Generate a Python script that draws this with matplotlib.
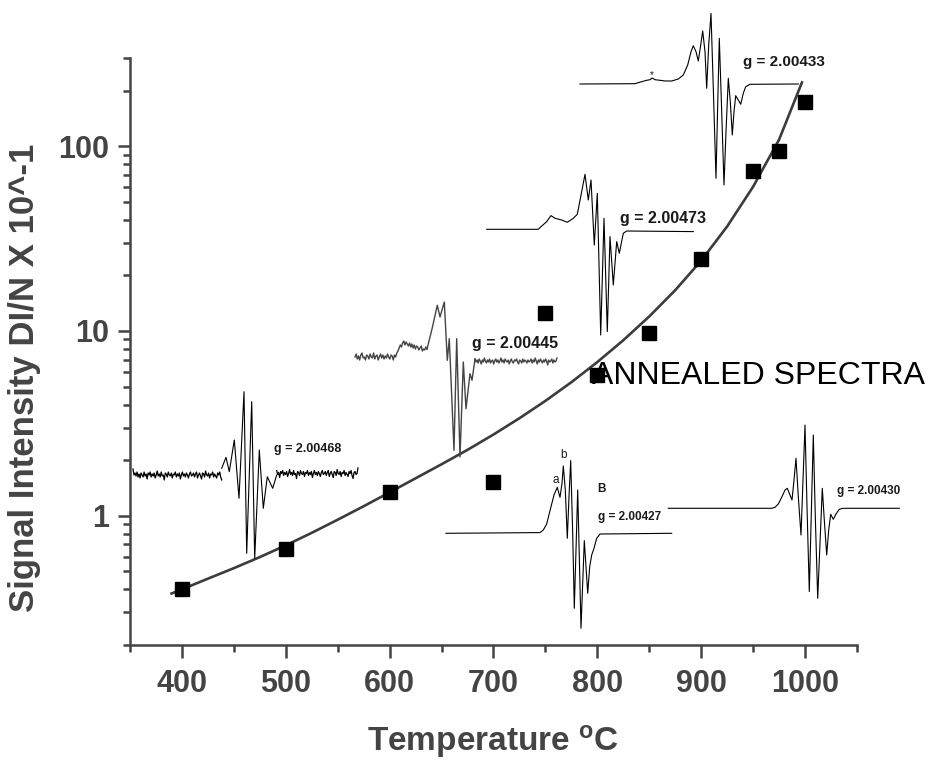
import numpy as np
import matplotlib
matplotlib.use("Agg")
import matplotlib.pyplot as plt

plt.rcParams['font.family'] = ['Liberation Sans', 'DejaVu Sans']

# ---------------- main data ----------------
temperature = [400, 500, 600, 700, 750, 800, 850, 900, 950, 975, 1000]
intensity = [0.40, 0.66, 1.35, 1.53, 12.5, 5.8, 9.75, 24.5, 73, 94, 173]

fit_temperature = [390, 400, 425, 450, 475, 500, 525, 550, 575, 600, 625, 650, 675, 700, 725,
                   750, 775, 800, 825, 850, 875, 900, 925, 950, 975, 997]
fit_intensity = [0.380, 0.400, 0.457, 0.521, 0.598, 0.692, 0.809, 0.953, 1.127, 1.340, 1.596,
                 1.901, 2.275, 2.754, 3.373, 4.188, 5.284, 6.792, 8.913, 11.99, 16.63, 24.04,
                 36.81, 60.39, 108.6, 221.3]

x_ticks = [400, 500, 600, 700, 800, 900, 1000]
y_ticks = [1, 10, 100]
y_tick_labels = ['1', '10', '100']

# ---------------- inset EPR spectra (field offset, amplitude; arbitrary units) ----------------
noise_a = [0, 2, -1, 3, -2, 1, -3, 2, 0, -2, 3, -1, 1, -4, 2, 0, 3, -2, 1, -1,
           2, -3, 0, 4, -1, 1, -2, 3, -1, 0, -5, 2, 1, -2, 3, 0, -1, 2, -3, 1,
           0, 3, -2, 1, -1, 2, -4, 0, 3, -1, 1, -2, 2, 0, -3, 1, 3, -1, 0, 2,
           -2, 1, 3, -3, 0, 2, -1, -4, 2, 1, -2, 4, 0, -1, 2, -3, 1, 0, 3, -2,
           1, -1, -3, 2, 0, 3, -2, -5, 1, 2, -1, 0, 3, -2, 1, -3, 2, 0, -1, 2]

# 400 C spectrum (noisy)
s400_core_field = [88.7, 93, 96.3, 101.3, 106, 111, 113.7, 118.7, 121.7, 126.3, 130.3, 134.3, 139.7, 143.7]
s400_core_amp = [6.7, 17.7, 3.3, 35, -23.3, 83.3, -78.3, 73.3, -83.3, 25, -33.3, -1.7, -13.3, 0]
s400_left_amp = [6] + noise_a[:88]
s400_right_amp = [v + 1.5 for v in noise_a[10:92]] + [7]

# 650 C spectrum (noisy, grey)
s650_left_amp = [0, 3, -2, 1, -3, 2, 4, -1, 0, -3, 2, 1, -2, 3, 0, -1, 4, -2, 1, 2, -3, 0, 3, -1, 2, -2, 1,
                 -1, 3, 0, -2, 2, 1, -3, 2, 0,
                 4, 6, 9, 12, 10, 14, 16, 12, 15, 13, 11, 14, 10, 13, 9, 12, 8, 11, 10, 7, 9, 11, 6, 8, 7, 10, 8]
s650_core_field = [76.7, 82.3, 85, 89.3, 92.3, 94.3, 99, 101.7, 105, 108.3, 111, 115, 117, 120]
s650_core_amp = [26.7, 51.7, 40, 55, -3.3, 18.3, -93.3, 18.3, -100, -5, -51.7, -16.7, -23.3, -2]
s650_right_amp = [-2, -5, -3, -6, -2, -4, -7, -3, -5, -1, -4, -6, -3, -5, -2, -6, -4, -3, -7, -4,
                  -2, -5, -3, -6, -4, -1, -5, -3, -6, -2, -4, -5, -3, -7, -4, -2, -5, -6, -3, -4,
                  -2, -5, -7, -3, -4, -6, -2, -5, -3, -4, -6, -3, -5, -4, -2, -6, -3, -5, -1, -4,
                  -7, -3, -5, -2, -4, -6, -3, -5, -2, -4, -8, -3, -5, -4, -2, -6, -3, -5, -4, -1]

# 800 C spectrum (upper)
s800a_field = [0, 51.6, 53.3, 60, 64.3, 68.3, 75, 80.6, 86.6, 90.6, 95, 98.3, 101.6, 104.3, 107.6,
               110.6, 114, 117.3, 120.6, 123.3, 126.6, 130, 132.6, 136.6, 140, 206.6]
s800a_amp = [0, 0, 1.7, 7.7, 13.7, 11, 9.3, 7, 11, 15, 37.7, 55, 29.3, 49.3, -15.7,
             36, -105.7, 11, -102.3, -7.3, -55.7, -12.3, -24, -4, -1.7, -2.3]

# 950 C spectrum (top)
s950_field = [0, 55, 61.7, 66.7, 70, 72.3, 75, 80, 85, 91.7, 98.3, 103.3, 107.7, 111, 113.3, 116,
              118.3, 120.7, 122.7, 125, 126.7, 128.7, 131, 133.3, 136, 137.7, 139.3, 141.7, 144,
              146, 148.3, 150.3, 152.3, 154, 155.7, 158.3, 160.7, 163.3, 165.7, 170, 218.3]
s950_amp = [0, 0.3, 2.3, 3.7, 4.3, 6, 4.3, 3.7, 3, 3, 5, 9, 19, 32.3, 38.3, 32.3,
            23, 39, 53, 32.3, -4.3, 39, 70.7, -4.3, -94.3, -21, 45.7, -27.7, -101,
            -47.7, 5.7, -17.7, -51, -27.7, -11.7, -16, -20.3, -9.3, -2.7, -0.3, 0]

# 800 C spectrum (lower, "B")
s800b_field = [0, 94, 97.3, 100.7, 104, 108, 111.3, 114, 116, 117.3, 119.3, 121.3, 123, 124.7, 126.7,
               128.3, 130, 131.7, 133.3, 135, 136.7, 138.3, 140, 141.7, 143.7, 145.7, 148, 150.7, 154, 225.7]
s800b_amp = [0, 0.7, 3.3, 9.3, 22.7, 38.3, 46, 36, 50, 67.3, 43.3, -5, 36.7, 72.7, 0,
             -75, -16.7, 43.3, -23.3, -95, -50, -7.3, -33.3, -60, -33.3, -21.7, -15, -5, -0.7, 0]

# 1000 C spectrum
s1000_field = [0, 103.4, 106.7, 110, 113.4, 116.7, 119, 121.7, 123.7, 125.7, 127.7, 130, 132.7, 134.7,
               136.7, 138.7, 141, 143, 145, 147, 149.4, 151.7, 154, 156, 158.4, 160.4, 162.4, 165,
               167.7, 171, 174.4, 231]
s1000_amp = [0, 0, 1, 4.3, 11, 18.3, 20, 13.3, 8.3, 28.3, 50, 11.7, -26.7, 28.3,
             83.3, 1.7, -83.3, -5, 73.3, -8.3, -90, -35, 20, -11.7, -46.7, -21.7, -6, -11,
             -5.7, -1, 0, 0]

g_labels = ['g = 2.00468', 'g = 2.00445', 'g = 2.00473', 'g = 2.00433', 'g = 2.00427', 'g = 2.00430']

# ---------------- figure ----------------
GREY = '#444444'
fig = plt.figure(figsize=(9.39, 7.6), dpi=100)
ax = fig.add_axes([130 / 939, 115 / 760, 727 / 939, 587 / 760])

ax.plot(fit_temperature, fit_intensity, '-', color='#3c3c3c', lw=1.9, zorder=2)
ax.plot(temperature, intensity, 's', color='black', ms=9.5, zorder=3)

ax.set_yscale('log')
ax.set_xlim(350, 1050)
ax.set_ylim(0.2, 300)
ax.set_xticks(x_ticks)
ax.set_xticks(np.arange(350, 1051, 50), minor=True)
ax.set_yticks(y_ticks)
ax.set_yticklabels(y_tick_labels)

for s in ['top', 'right']:
    ax.spines[s].set_visible(False)
for s in ['left', 'bottom']:
    ax.spines[s].set_color(GREY)
    ax.spines[s].set_linewidth(1.8)

ax.tick_params(which='major', length=9, width=1.8, color=GREY, labelsize=22, labelcolor=GREY)
ax.tick_params(which='minor', length=5, width=1.8, color=GREY)
ax.tick_params(axis='x', which='major', pad=8)
ax.tick_params(axis='y', which='major', pad=6)
for lab in ax.get_xticklabels() + ax.get_yticklabels():
    lab.set_fontweight('bold')

ax.set_xlabel('Temperature $\\mathregular{^{o}}$C', fontsize=24, fontweight='bold', color=GREY)
ax.set_ylabel('Signal Intensity DI/N X 10^-1', fontsize=25, fontweight='bold', color=GREY)
ax.xaxis.set_label_coords(0.5, -0.133)
ax.yaxis.set_label_coords(-0.122, 0.455)

# ---------------- overlay for the spectra (pixel layout) ----------------
ov = fig.add_axes([0, 0, 1, 1], zorder=5)
ov.set_xlim(0, 939)
ov.set_ylim(760, 0)
ov.axis('off')
ov.patch.set_alpha(0)


def draw_spectrum(x0, base, field, amp, color='black', lw=0.8):
    ov.plot([x0 + f for f in field], [base - a for a in amp], '-', color=color, lw=lw)


# 400 C
draw_spectrum(133, 475, np.linspace(0, 88.7, len(s400_left_amp)), s400_left_amp, lw=0.9)
draw_spectrum(133, 475, s400_core_field, s400_core_amp)
draw_spectrum(133, 475, np.linspace(143.7, 225, len(s400_right_amp)), s400_right_amp, lw=0.9)
# 650 C
draw_spectrum(355, 357, np.linspace(0, 72, len(s650_left_amp)), s650_left_amp, color='#444444', lw=1.0)
draw_spectrum(355, 357, [72] + s650_core_field, [s650_left_amp[-1]] + s650_core_amp, color='#444444', lw=1.0)
draw_spectrum(355, 357, np.linspace(120, 202, len(s650_right_amp)), s650_right_amp, color='#444444', lw=1.0)
# 800 C upper
draw_spectrum(486.7, 229.3, s800a_field, s800a_amp)
# 950 C
draw_spectrum(580, 84, s950_field, s950_amp)
# 800 C lower
draw_spectrum(446, 533.3, s800b_field, s800b_amp)
# 1000 C
draw_spectrum(668.3, 508.3, s1000_field, s1000_amp)

lab_kw = dict(fontweight='bold', color='#1a1a1a', va='center', ha='left')
ov.text(274, 449, g_labels[0], fontsize=9, **lab_kw)
ov.text(471.7, 343.3, g_labels[1], fontsize=11.5, **lab_kw)
ov.text(620, 218.3, g_labels[2], fontsize=11.5, **lab_kw)
ov.text(742.7, 62.3, g_labels[3], fontsize=11, **lab_kw)
ov.text(597.7, 516.7, g_labels[4], fontsize=8.5, **lab_kw)
ov.text(836.7, 491, g_labels[5], fontsize=8.5, **lab_kw)
ov.text(597, 489, 'B', fontsize=8.5, **lab_kw)
ov.text(555.7, 480, 'a', fontsize=8.5, color='#1a1a1a', ha='center', va='center')
ov.text(564, 455, 'b', fontsize=8.5, color='#1a1a1a', ha='center', va='center')
ov.text(652, 75, '*', fontsize=7, color='#1a1a1a', ha='center', va='center')
ov.text(592, 376, 'ANNEALED SPECTRA', fontsize=23, color='black', ha='left', va='center')

fig.savefig('out.png', dpi=100)
